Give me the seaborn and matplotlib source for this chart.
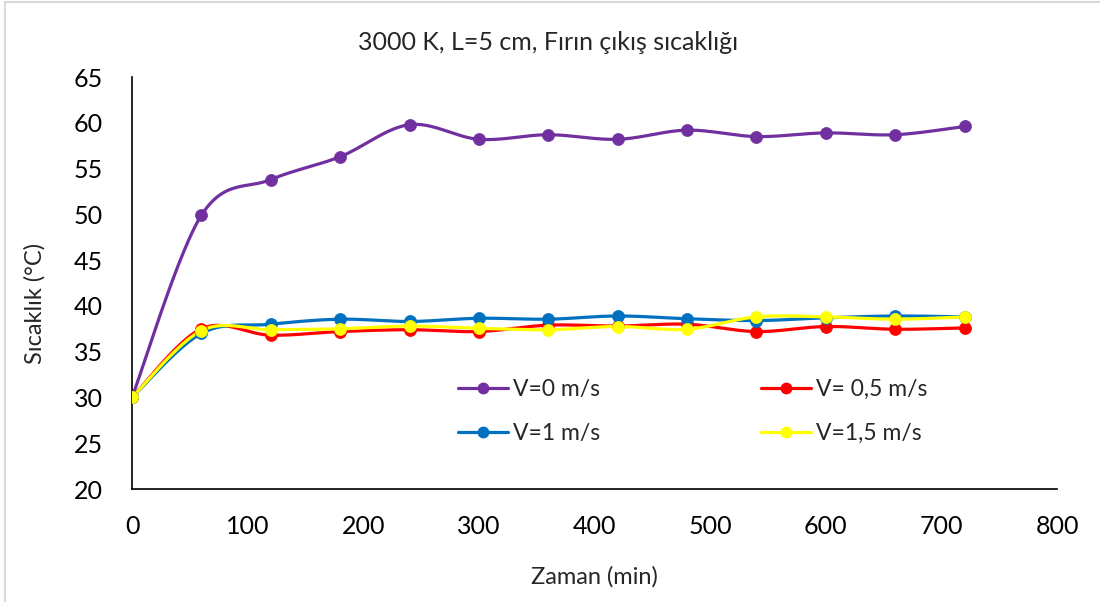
import numpy as np
import pandas as pd
import matplotlib
matplotlib.use("Agg")
import matplotlib.pyplot as plt
from matplotlib.lines import Line2D
from matplotlib.patches import Rectangle
import seaborn as sns

# ---- data ----
time_min = [0, 60, 120, 180, 240, 300, 360, 420, 480, 540, 600, 660, 720]
v0 = [30.0, 49.9, 53.8, 56.3, 59.8, 58.2, 58.7, 58.2, 59.2, 58.5, 58.9, 58.7, 59.6]
v05 = [30.0, 37.5, 36.8, 37.2, 37.4, 37.2, 37.9, 37.8, 38.0, 37.2, 37.75, 37.45, 37.6]
v1 = [30.0, 37.0, 38.0, 38.55, 38.3, 38.65, 38.55, 38.9, 38.6, 38.4, 38.7, 38.9, 38.8]
v15 = [30.0, 37.3, 37.4, 37.5, 37.8, 37.55, 37.4, 37.75, 37.45, 38.8, 38.8, 38.55, 38.8]
series_names = ["V=0 m/s", "V= 0,5 m/s", "V=1 m/s", "V=1,5 m/s"]
series_vals = [v0, v05, v1, v15]
colors = ["#7030A0", "#FF0000", "#0070C0", "#FFFF00"]
x_ticks = [0, 100, 200, 300, 400, 500, 600, 700, 800]
y_ticks = [20, 25, 30, 35, 40, 45, 50, 55, 60, 65]
title = "3000 K, L=5 cm, Fırın çıkış sıcaklığı"
xlabel = "Zaman (min)"
ylabel = "Sıcaklık (°C)"


def smooth(x, y, n=30):
    """Excel-like smoothed line (Catmull-Rom style cubic Bezier)."""
    x = np.asarray(x, float)
    y = np.asarray(y, float)
    px, py = [], []
    m = len(x)
    for i in range(m - 1):
        x0, y0 = (x[i - 1], y[i - 1]) if i > 0 else (x[i], y[i])
        x1, y1 = x[i], y[i]
        x2, y2 = x[i + 1], y[i + 1]
        x3, y3 = (x[i + 2], y[i + 2]) if i + 2 < m else (x2, y2)
        c1x, c1y = x1 + (x2 - x0) / 6, y1 + (y2 - y0) / 6
        c2x, c2y = x2 - (x3 - x1) / 6, y2 - (y3 - y1) / 6
        t = np.linspace(0, 1, n, endpoint=(i == m - 2))
        bx = (1 - t) ** 3 * x1 + 3 * (1 - t) ** 2 * t * c1x + 3 * (1 - t) * t ** 2 * c2x + t ** 3 * x2
        by = (1 - t) ** 3 * y1 + 3 * (1 - t) ** 2 * t * c1y + 3 * (1 - t) * t ** 2 * c2y + t ** 3 * y2
        px.extend(bx)
        py.extend(by)
    return np.array(px), np.array(py)


sns.set_theme(style="white")
plt.rcParams["font.family"] = ["Lato", "DejaVu Sans"]

fig = plt.figure(figsize=(11, 6.02), dpi=100)
ax = fig.add_axes([0.12, 0.1877, 0.841, 0.6843])

handles = {}
for name, vals, col in zip(series_names, series_vals, colors):
    sx, sy = smooth(time_min, vals)
    df_s = pd.DataFrame({"x": sx, "y": sy})
    sns.lineplot(data=df_s, x="x", y="y", sort=False, ax=ax, color=col,
                 linewidth=2.3, estimator=None, zorder=2)
    df_p = pd.DataFrame({"x": time_min, "y": vals})
    sns.scatterplot(data=df_p, x="x", y="y", ax=ax, color=col, s=75,
                    edgecolor=col, linewidth=0.5, zorder=3)
    handles[name] = Line2D([0], [0], color=col, lw=2.3, marker="o",
                           markersize=7.5, markerfacecolor=col, markeredgecolor=col)

ax.set_xlim(0, 800)
ax.set_ylim(20, 65)
ax.set_xticks(x_ticks)
ax.set_yticks(y_ticks)
ax.tick_params(axis="both", labelsize=18, length=0, colors="#000000")
ax.tick_params(axis="x", pad=19)
ax.tick_params(axis="y", pad=21)
for s in ["top", "right"]:
    ax.spines[s].set_visible(False)
for s in ["left", "bottom"]:
    ax.spines[s].set_color("#000000")
    ax.spines[s].set_linewidth(1.2)
ax.set_xlabel(xlabel, fontsize=17)
ax.set_ylabel(ylabel, fontsize=17)
ax.xaxis.label.set_va("center")
ax.yaxis.label.set_va("center")
ax.xaxis.set_label_coords(0.5, -0.2136)
ax.yaxis.set_label_coords(-0.105, 0.4515)
ax.grid(False)

fig.text(0.498, 0.929, title, ha="center", va="center", fontsize=18)

order = ["V=0 m/s", "V=1 m/s", "V= 0,5 m/s", "V=1,5 m/s"]
leg = ax.legend([handles[k] for k in order], order, ncol=2, frameon=False,
                fontsize=16.5, loc="upper left",
                bbox_to_anchor=(0.4164, 0.370), bbox_transform=fig.transFigure,
                borderaxespad=0, borderpad=0,
                handlelength=2.18, columnspacing=7.0, labelspacing=0.98,
                handletextpad=0.22)

fig.patches.append(Rectangle((0.0041, -0.01), 1.02, 1.0075, transform=fig.transFigure,
                             fill=False, edgecolor="#D9D9D9", linewidth=1.5))

fig.savefig("out.png", dpi=100)
